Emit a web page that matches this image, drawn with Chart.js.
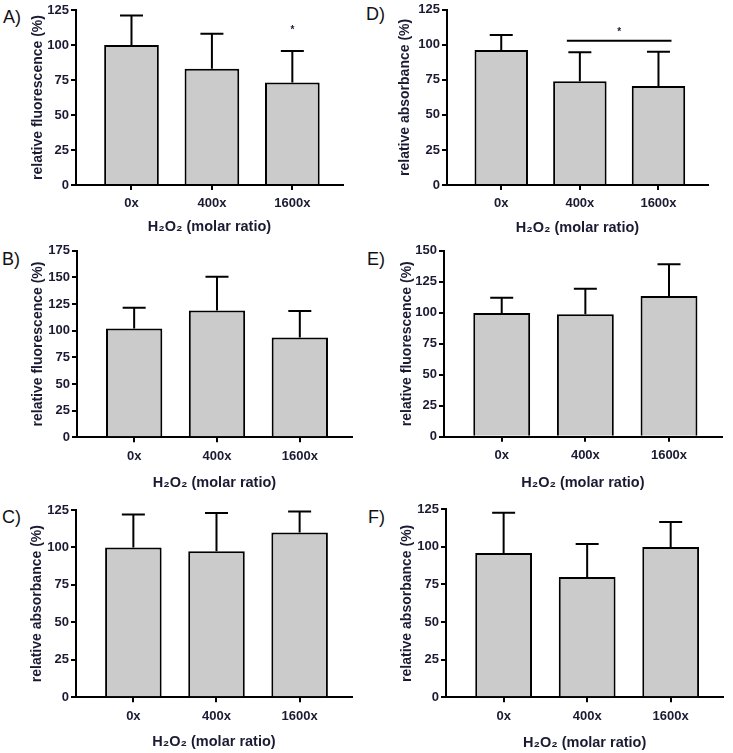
<!DOCTYPE html>
<html>
<head>
    <title>H2O2 panels</title>
    <script src="https://cdn.jsdelivr.net/npm/chart.js"></script>
    <style>
        body { margin: 0; background: #fff; }
        #figure { position: relative; width: 733px; height: 753px; background: #fff; overflow: hidden; }
        #figure canvas { position: absolute; }
        .panel-letter { position: absolute; font-family: "Liberation Sans", Arial, sans-serif; font-size: 18px; color: #111; line-height: 1; }
    </style>
</head>
<body>
    <div id="figure"></div>

    <script>
        // categories shared by every panel
        const categories = ['0x', '400x', '1600x'];

        // A) relative fluorescence
        const meanA = [100, 83, 73.3];
        const sdA = [21, 25, 22.5];
        // B) relative fluorescence
        const meanB = [102, 119, 93.5];
        const sdB = [19.5, 31.5, 25];
        // C) relative absorbance
        const meanC = [100, 97.4, 110];
        const sdC = [22, 25.6, 14];
        // D) relative absorbance
        const meanD = [96.4, 74, 70.7];
        const sdD = [10.6, 20.7, 24.3];
        // E) relative fluorescence
        const meanE = [99.8, 98.7, 113.5];
        const sdE = [12.2, 20.7, 25.5];
        // F) relative absorbance
        const meanF = [96, 80, 100];
        const sdF = [26.7, 22, 16.6];

        // y axis ranges
        const yMax = { A: 125, B: 175, C: 125, D: 125, E: 150, F: 125 };
        const yStep = 25;

        // significance marks (value units)
        const sigA = { from: 2, to: 2, starY: 112.4, lineY: null };
        const sigD = { from: 1, to: 2, starY: 110.8, lineY: 103 };

        const fluoTitle = 'relative fluorescence (%)';
        const absTitle = 'relative absorbance (%)';
        const xTitle = 'H\u2082O\u2082 (molar ratio)';

        const textColor = '#1a1a33';
        const fontFamily = '"Liberation Sans", Arial, sans-serif';
        const tickSize = 13;
        const yTitleSize = 14;
        const xTitleSize = 14.5;

        // panel layout (pixels in the 733x753 figure)
        const panels = [
            { letter: 'A)', mean: meanA, sd: sdA, max: yMax.A, yTitle: fluoTitle, sig: sigA,
              box: { left: 0, top: 0, width: 360, height: 240 },
              axisX: 76, axisTop: 10, axisBottom: 185, axisRight: 343, yTitleX: 38, xTitleY: 227,
              letterPos: [3, 8] },
            { letter: 'B)', mean: meanB, sd: sdB, max: yMax.B, yTitle: fluoTitle, sig: null,
              box: { left: 0, top: 240, width: 360, height: 255 },
              axisX: 77, axisTop: 250.7, axisBottom: 437.3, axisRight: 352, yTitleX: 38, xTitleY: 483,
              letterPos: [2, 250] },
            { letter: 'C)', mean: meanC, sd: sdC, max: yMax.C, yTitle: absTitle, sig: null,
              box: { left: 0, top: 495, width: 360, height: 258 },
              axisX: 76, axisTop: 510, axisBottom: 697.3, axisRight: 352, yTitleX: 37, xTitleY: 742,
              letterPos: [2, 508] },
            { letter: 'D)', mean: meanD, sd: sdD, max: yMax.D, yTitle: absTitle, sig: sigD,
              box: { left: 360, top: 0, width: 373, height: 240 },
              axisX: 447, axisTop: 9, axisBottom: 185, axisRight: 708, yTitleX: 405, xTitleY: 228,
              letterPos: [366, 5] },
            { letter: 'E)', mean: meanE, sd: sdE, max: yMax.E, yTitle: fluoTitle, sig: null,
              box: { left: 360, top: 240, width: 373, height: 255 },
              axisX: 444, axisTop: 250.7, axisBottom: 436.7, axisRight: 721.7, yTitleX: 407, xTitleY: 483,
              letterPos: [367, 250] },
            { letter: 'F)', mean: meanF, sd: sdF, max: yMax.F, yTitle: absTitle, sig: null,
              box: { left: 360, top: 495, width: 373, height: 258 },
              axisX: 446, axisTop: 509.3, axisBottom: 697.3, axisRight: 723.3, yTitleX: 407.5, xTitleY: 743,
              letterPos: [368, 508] }
        ];

        // upper error bars (GraphPad style, cap only above the bar)
        const errorBars = {
            id: 'errorBars',
            afterDatasetsDraw(chart) {
                const ctx = chart.ctx;
                const y = chart.scales.y;
                const ds = chart.data.datasets[0];
                const meta = chart.getDatasetMeta(0);
                ctx.save();
                ctx.strokeStyle = '#000';
                ctx.lineWidth = 2;
                meta.data.forEach((bar, i) => {
                    const top = y.getPixelForValue(ds.data[i].y + ds.errors[i]);
                    ctx.beginPath();
                    ctx.moveTo(bar.x, bar.y);
                    ctx.lineTo(bar.x, top);
                    ctx.moveTo(bar.x - 11.5, top);
                    ctx.lineTo(bar.x + 11.5, top);
                    ctx.stroke();
                });
                ctx.restore();
            }
        };

        // significance star / bracket
        const sigMarks = {
            id: 'sigMarks',
            afterDraw(chart, args, opts) {
                const sig = opts.sig;
                if (!sig) return;
                const ctx = chart.ctx;
                const x = chart.scales.x;
                const y = chart.scales.y;
                const x0 = x.getPixelForValue(sig.from);
                const x1 = x.getPixelForValue(sig.to);
                ctx.save();
                if (sig.lineY !== null) {
                    const ly = y.getPixelForValue(sig.lineY);
                    ctx.strokeStyle = '#000';
                    ctx.lineWidth = 2;
                    ctx.beginPath();
                    ctx.moveTo(x0 - 13, ly);
                    ctx.lineTo(x1 + 13, ly);
                    ctx.stroke();
                }
                const sy = y.getPixelForValue(sig.starY);
                ctx.fillStyle = textColor;
                ctx.font = 'bold 10px ' + fontFamily;
                ctx.textAlign = 'center';
                ctx.textBaseline = 'alphabetic';
                ctx.fillText('*', (x0 + x1) / 2, sy + 5.5);
                ctx.restore();
            }
        };

        function makePanel(p) {
            const fig = document.getElementById('figure');

            const label = document.createElement('div');
            label.className = 'panel-letter';
            label.textContent = p.letter;
            label.style.left = p.letterPos[0] + 'px';
            label.style.top = p.letterPos[1] + 'px';
            fig.appendChild(label);

            const canvas = document.createElement('canvas');
            canvas.width = p.box.width;
            canvas.height = p.box.height;
            canvas.style.left = p.box.left + 'px';
            canvas.style.top = p.box.top + 'px';
            canvas.style.width = p.box.width + 'px';
            canvas.style.height = p.box.height + 'px';
            fig.appendChild(canvas);

            const yTitleHalf = yTitleSize * 1.2 / 2;
            const xTitleHalf = xTitleSize * 1.2 / 2;
            const padLeft = p.yTitleX - yTitleHalf - p.box.left;
            const yWidth = p.axisX - p.box.left - padLeft;
            const xBottom = p.xTitleY + xTitleHalf;
            const xHeight = xBottom - p.axisBottom;

            new Chart(canvas, {
                type: 'bar',
                data: {
                    datasets: [{
                        data: p.mean.map((v, i) => ({ x: i, y: v })),
                        errors: p.sd,
                        backgroundColor: '#cbcbcb',
                        borderColor: '#000',
                        borderWidth: 2,
                        categoryPercentage: 1,
                        barPercentage: 0.68
                    }]
                },
                options: {
                    responsive: false,
                    animation: false,
                    layout: {
                        padding: {
                            left: padLeft,
                            top: p.axisTop - p.box.top,
                            right: p.box.left + p.box.width - p.axisRight,
                            bottom: p.box.top + p.box.height - xBottom
                        }
                    },
                    plugins: {
                        legend: { display: false },
                        tooltip: { enabled: false },
                        sigMarks: { sig: p.sig }
                    },
                    scales: {
                        x: {
                            type: 'linear',
                            offset: false,
                            min: -0.69,
                            max: 2.63,
                            afterBuildTicks: (scale) => {
                                scale.ticks = categories.map((c, i) => ({ value: i }));
                            },
                            afterFit: (scale) => { scale.height = xHeight; },
                            ticks: {
                                callback: (v) => categories[v],
                                color: textColor,
                                font: { family: fontFamily, size: tickSize, weight: 'bold' },
                                padding: 6,
                                maxRotation: 0,
                                autoSkip: false
                            },
                            grid: {
                                offset: false,
                                drawOnChartArea: false,
                                drawTicks: true,
                                tickLength: 5,
                                color: '#000',
                                lineWidth: 2
                            },
                            border: { display: true, color: '#000', width: 2 },
                            title: {
                                display: true,
                                text: xTitle,
                                color: textColor,
                                padding: 0,
                                font: { family: fontFamily, size: xTitleSize, weight: 'bold' }
                            }
                        },
                        y: {
                            min: 0,
                            max: p.max,
                            afterFit: (scale) => { scale.width = yWidth; },
                            ticks: {
                                stepSize: yStep,
                                color: textColor,
                                font: { family: fontFamily, size: tickSize, weight: 'bold' },
                                padding: 2
                            },
                            grid: {
                                drawOnChartArea: false,
                                drawTicks: true,
                                tickLength: 5,
                                color: '#000',
                                lineWidth: 2
                            },
                            border: { display: true, color: '#000', width: 2 },
                            title: {
                                display: true,
                                text: p.yTitle,
                                color: textColor,
                                padding: 0,
                                font: { family: fontFamily, size: yTitleSize, weight: 'bold' }
                            }
                        }
                    }
                },
                plugins: [errorBars, sigMarks]
            });
        }

        window.addEventListener('DOMContentLoaded', () => panels.forEach(makePanel));
    </script>
</body>
</html>
